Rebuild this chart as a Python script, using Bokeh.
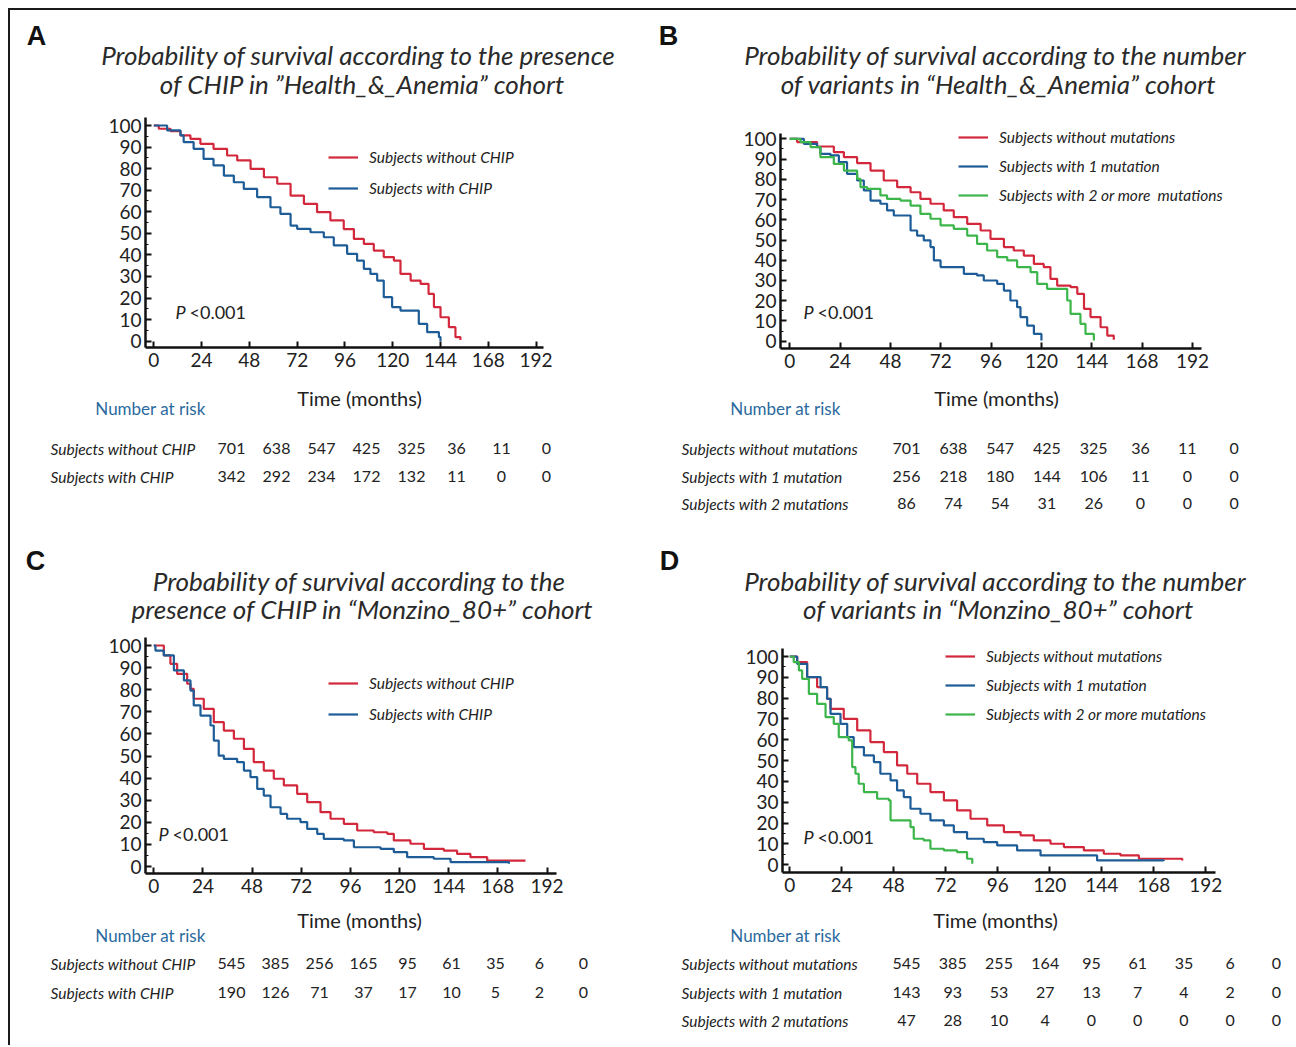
from bokeh.plotting import figure
from bokeh.models import (Label, LabelSet, ColumnDataSource, FixedTicker, Legend,
                          LegendItem, Range1d)
from bokeh.core.properties import value
from bokeh.layouts import column, row
from bokeh.embed import file_html
from bokeh.resources import INLINE

# ---------------- data ----------------
TIME_TICKS = [0, 24, 48, 72, 96, 120, 144, 168, 192]
Y_TICKS = [0, 10, 20, 30, 40, 50, 60, 70, 80, 90, 100]

# Panel A
A_t_without = [0, 2.5, 8.4, 13.4, 18.4, 23.4, 30, 36.8, 41.9, 48.6, 55.3, 62, 68.7, 75.4, 82, 88.7,
               95.4, 100.5, 105.5, 110.5, 115.5, 120.6, 123.9, 129, 134, 138, 140.7, 144, 148.2, 151.5, 154]
A_s_without = [100, 98.5, 97.4, 95.4, 93.8, 91.5, 89.2, 86.1, 83.8, 79.9, 76, 73, 67.5, 63.7, 59.8, 56,
               52, 47.4, 45.1, 42, 39, 37.4, 31.2, 28.1, 26.6, 21.9, 15.8, 11.1, 6.5, 1.9, 0.6]
A_t_with = [0, 6.7, 13.4, 15, 20, 25, 30, 35.2, 40.2, 45.2, 51.9, 58.6, 63.6, 68.7, 72, 78.7, 85.4,
            90.4, 97.1, 102.1, 105.5, 108.8, 112.2, 115.5, 119.7, 123.9, 130.6, 133.1, 137.3, 143.2, 144]
A_s_with = [100, 97.7, 95.4, 92.3, 89.2, 84.5, 81.5, 76.8, 73.7, 70.6, 66.8, 62.1, 59, 53.6, 52.1, 50.5,
            48.2, 44.4, 40.5, 37.4, 33.5, 31.2, 28.1, 20.4, 15.8, 14.2, 14.2, 8, 4.2, 1.9, 0]
A_risk_times = [0, 24, 48, 72, 96, 120, 144, 168]
A_risk_without = [701, 638, 547, 425, 325, 36, 11, 0]
A_risk_with = [342, 292, 234, 172, 132, 11, 0, 0]

# Panel B
B_t_without = [0, 3.5, 13, 21, 25.8, 32.1, 38.5, 44.8, 51.2, 57.6, 62.3, 67.1, 73.4, 78.2, 84.6, 91,
               95.7, 102.1, 106.8, 111.6, 116.4, 121.1, 124.3, 127.5, 133.9, 137.1, 140.3, 143.4, 148.2, 151.4, 154.5]
B_s_without = [100, 98.4, 96.2, 93.4, 90.9, 88, 84.3, 79.4, 76.1, 73.6, 70.3, 67.9, 64.6, 61.3, 58, 54.7,
               50.6, 46.5, 44.8, 42.3, 38.2, 36.6, 30.8, 27.5, 26.7, 23.4, 16, 11.9, 6.9, 2.8, 0.7]
B_t_one = [0, 6.7, 13, 14.6, 19.4, 23.4, 27.3, 32.1, 35.3, 38.5, 43.2, 46.4, 49.6, 54.4, 57.6, 60.7,
           63.9, 67.1, 68.7, 71.9, 79.8, 83, 89.3, 92.5, 98.9, 102.1, 105.2, 108.4, 110, 113.2, 116.4, 120]
B_s_one = [100, 97.5, 95.9, 92.6, 91.8, 88.5, 82.7, 79.4, 74.5, 69.5, 67.9, 64.6, 62.1, 62.1, 54.7, 52.2,
           49.8, 46.5, 39.9, 36.6, 36.6, 33.3, 32.5, 30, 28.3, 25, 20.1, 16.8, 11.9, 7.7, 3.6, 0.3]
B_t_two = [0, 5.1, 9.9, 14.6, 21, 25.8, 32.1, 33.7, 36.9, 43.2, 46.4, 52.8, 57.6, 62.3, 67.1, 71.9,
           78.2, 84.6, 89.3, 94.1, 98.9, 103.7, 108.4, 114.8, 118, 122.7, 130.7, 132.3, 133.9, 138.6, 141, 145]
B_s_two = [100, 98.4, 95.9, 90.9, 87.6, 84.3, 80.2, 76.1, 75.3, 72, 70.3, 69.5, 67, 62.9, 60.5, 57.2,
           55.5, 52.2, 48.1, 44.8, 41.5, 39.9, 36.6, 34.1, 28.3, 25.9, 25.9, 20.1, 13.5, 8.6, 3.6, 0.3]
B_risk_times = [0, 24, 48, 72, 96, 120, 144, 168]
B_risk_without = [701, 638, 547, 425, 325, 36, 11, 0]
B_risk_one = [256, 218, 180, 144, 106, 11, 0, 0]
B_risk_two = [86, 74, 54, 31, 26, 0, 0, 0]

# Panel C
C_t_without = [0, 1.6, 4.9, 8.1, 11.4, 16.3, 17.9, 19.5, 24.4, 29.3, 34.2, 39.1, 44, 48.8, 53.7, 58.6,
               63.5, 70, 74.9, 81.4, 86.3, 92.8, 99.3, 107.4, 114, 117.2, 125.3, 131.9, 141.6, 148.1, 154.6, 162.8, 181.5]
C_s_without = [100, 100, 95.5, 91.7, 87.2, 82.7, 80.4, 75.9, 71.3, 65.3, 61.5, 57.8, 53.2, 47.2, 43.4, 39.7,
               36.7, 32.9, 29.1, 24.6, 21.6, 19.3, 16.3, 15.5, 14.8, 11.8, 10.3, 8, 7.2, 5.7, 4.2, 2.7, 2.7]
C_t_with = [0, 0.8, 4.9, 9.8, 14.7, 17.9, 19.5, 22.8, 27.7, 29.3, 31.7, 34.2, 40.7, 44, 47.2, 50.5,
            53.7, 57, 61.9, 65.1, 71.6, 74.9, 79.8, 83, 92.8, 97.7, 110.7, 117.2, 123.7, 136.7, 144.9, 173.4]
C_s_with = [100, 97.7, 95.5, 88.7, 84.2, 79.6, 72.9, 68.3, 63.8, 57, 50.2, 48.7, 47.2, 43.4, 40.4, 35.1,
            32.1, 26.8, 23.8, 21.6, 20.1, 17, 14.8, 12.5, 11.8, 8.7, 8, 6.5, 4.2, 3.5, 2, 1.2]
C_risk_times = [0, 24, 48, 72, 96, 120, 144, 168, 192]
C_risk_without = [545, 385, 256, 165, 95, 61, 35, 6, 0]
C_risk_with = [190, 126, 71, 37, 17, 10, 5, 2, 0]

# Panel D
D_t_without = [0, 3.4, 8, 12.6, 17.2, 18.8, 24.9, 31.1, 37.2, 43.4, 49.5, 54.2, 58.8, 64.9, 71.1, 77.2,
               83.4, 91.1, 98.8, 106.5, 112.6, 120.3, 126.5, 135.7, 144.9, 152.6, 161.1, 181.1]
D_s_without = [100, 97.3, 90.1, 85.3, 79.7, 74.9, 70.1, 64.5, 58.9, 54.1, 47.7, 43.7, 38.9, 34.9, 30.9, 26.1,
               22.1, 18.9, 15.7, 14.1, 11.7, 10.1, 8.5, 6.9, 5.3, 4.5, 2.9, 2.1]
D_t_one = [0, 3.4, 8, 14.2, 17.2, 18.8, 23.4, 26.5, 29.5, 34.2, 38.8, 41.8, 46.5, 49.5, 52.6, 55.7,
           60.3, 64.9, 71.1, 75.7, 81.8, 89.5, 95.7, 104.9, 115.7, 137.2, 141.8, 172.6]
D_s_one = [100, 96.5, 90.1, 85.3, 79.7, 72.5, 67.7, 61.3, 56.5, 52.5, 49.3, 43.7, 40.5, 35.7, 32.5, 26.9,
           24.5, 21.3, 18.9, 15.7, 12.5, 10.9, 9.3, 6.9, 4.5, 4.5, 2.1, 1.8]
D_t_two = [0, 1.8, 4.2, 5.7, 8.8, 12.6, 16.5, 20.3, 22.6, 27.2, 28.8, 30.3, 31.8, 34.2, 38.8, 40.3,
           45.7, 46.5, 52.6, 55.7, 57.2, 61.8, 64.9, 71.1, 77.2, 81.8, 84.2]
D_s_two = [100, 97.3, 93.3, 89.3, 82.1, 77.3, 70.9, 67.7, 61.3, 59.7, 46.9, 43.7, 38.9, 34.9, 34.9, 31.7,
           30.9, 21.3, 21.3, 18.1, 12.5, 11.7, 7.7, 6.9, 6.1, 2.9, 0.5]
D_risk_times = [0, 24, 48, 72, 96, 120, 144, 168, 192]
D_risk_without = [545, 385, 255, 164, 95, 61, 35, 6, 0]
D_risk_one = [143, 93, 53, 27, 13, 7, 4, 2, 0]
D_risk_two = [47, 28, 10, 4, 0, 0, 0, 0, 0]

CHIP_LABELS = ["Subjects without CHIP", "Subjects with CHIP"]
MUT_LEGEND_B = ["Subjects without mutations", "Subjects with 1 mutation", "Subjects with 2 or more  mutations"]
MUT_LEGEND_D = ["Subjects without mutations", "Subjects with 1 mutation", "Subjects with 2 or more mutations"]
MUT_ROWS = ["Subjects without mutations", "Subjects with 1 mutation", "Subjects with 2 mutations"]

# ---------------- style ----------------
RED = "#d3283c"
BLUE = "#1d5c96"
GREEN = "#3cb54a"
INK = "#222222"
RISK_BLUE = "#2b6a9e"
FONT = "Lato"


def blank_fig(ox, oy, W, H):
    """A figure whose frame fills it, in page-pixel coordinates (y downward)."""
    f = figure(width=W, height=H, x_range=Range1d(ox, ox + W), y_range=Range1d(oy + H, oy),
               x_axis_type=None, y_axis_type=None, output_backend="svg", toolbar_location=None,
               min_border=0, min_border_left=0, min_border_right=0, min_border_top=0,
               min_border_bottom=0, frame_align=False)
    f.outline_line_color = None
    f.grid.visible = False
    f.background_fill_color = "white"
    f.border_fill_color = "white"
    return f


def add_label(f, X, Y, text, size, style="normal", align="left", color=INK, font=FONT):
    f.add_layout(Label(x=X, y=Y, text=text, text_align=align, text_baseline="middle",
                       text_font=font, text_font_size=size, text_font_style=style,
                       text_color=color))


def build_panel(ox, oy, W, heights, geo, letter_xy, letter, titles, curves, legend_cfg,
                p_xy, time_xy, risk_xy, rows_cfg):
    h_head, h_km, h_tab = heights
    # ---- header: panel letter + two-line title
    head = blank_fig(ox, oy, W, h_head)
    add_label(head, letter_xy[0], letter_xy[1], letter, "27px", "bold", "center", "#111111",
              "Liberation Sans")
    for (X, Y), text in titles:
        add_label(head, X, Y, text, "26px", "italic", "center", "#2a2a2a")

    # ---- survival plot
    ky = oy + h_head
    x0, sx, y0, sy = geo["x0"], geo["sx"], geo["y0"], geo["sy"]
    L, B = geo["left"], geo["bottom"]
    R = ox + W - 6
    T = ky

    def dx(X):
        return (X - x0) / sx

    def dy(Y):
        return (y0 - Y) / sy

    p = figure(width=W, height=h_km, x_range=Range1d(dx(L), dx(R)), y_range=Range1d(dy(B), dy(T)),
               output_backend="svg", toolbar_location=None,
               min_border_left=L - ox, min_border_right=ox + W - R,
               min_border_top=0, min_border_bottom=ky + h_km - B, frame_align=False)
    p.outline_line_color = None
    p.grid.visible = False
    p.background_fill_color = "white"
    p.border_fill_color = "white"

    p.xaxis.ticker = FixedTicker(ticks=TIME_TICKS)
    p.yaxis.ticker = FixedTicker(ticks=Y_TICKS, minor_ticks=[v + 5 for v in Y_TICKS[:-1]])
    p.xaxis.bounds = (dx(L), dx(geo["axis_right"]))
    p.yaxis.bounds = (dy(B), dy(geo["axis_top"]))
    for ax in (p.xaxis[0], p.yaxis[0]):
        ax.axis_line_width = 2.5
        ax.axis_line_color = "#111111"
        ax.major_tick_in = 6
        ax.major_tick_out = 0
        ax.minor_tick_in = 3
        ax.minor_tick_out = 0
        ax.major_tick_line_width = 2
        ax.major_tick_line_color = "#111111"
        ax.minor_tick_line_color = "#111111"
        ax.major_label_text_font = FONT
        ax.major_label_text_font_size = "19px"
        ax.major_label_text_color = INK
    p.xaxis[0].major_label_standoff = 5
    p.yaxis[0].major_label_standoff = 4

    items = []
    for t, s, color, lab in curves:
        r = p.step(t, s, mode="after", line_color=color, line_width=2.2)
        items.append(LegendItem(label=lab, renderers=[r]))

    lx, ly0, spacing = legend_cfg
    n = len(items)
    leg_bottom = ly0 - 10 + n * 20 + (n - 1) * spacing
    legend = Legend(items=items, location=(lx - L, B - leg_bottom),
                    glyph_width=30, glyph_height=20, label_height=20, label_standoff=11,
                    spacing=spacing, padding=0, margin=0, border_line_color=None,
                    background_fill_alpha=0, label_text_font=FONT, label_text_font_style="italic",
                    label_text_font_size="15.5px", label_text_color=INK)
    p.add_layout(legend)

    p.add_layout(Label(x=dx(p_xy[0]), y=dy(p_xy[1]), text="P", text_baseline="middle",
                       text_font=FONT, text_font_size="18px", text_font_style="italic",
                       text_color=INK))
    p.add_layout(Label(x=dx(p_xy[0] + 14), y=dy(p_xy[1]), text="<0.001", text_baseline="middle",
                       text_font=FONT, text_font_size="18px", text_color=INK))

    # ---- number-at-risk table
    ty = ky + h_km
    tab = blank_fig(ox, ty, W, h_tab)
    add_label(tab, time_xy[0], time_xy[1], "Time (months)", "20px", "normal", "center")
    add_label(tab, risk_xy[0], risk_xy[1], "Number at risk", "17px", "normal", "center", RISK_BLUE)
    label_x, col0, col_step, rows = rows_cfg
    for Y, name, vals in rows:
        add_label(tab, label_x, Y, name, "15.5px", "italic")
        src = ColumnDataSource(dict(x=[col0 + i * col_step for i in range(len(vals))],
                                    y=[Y] * len(vals), text=[str(v) for v in vals]))
        tab.add_layout(LabelSet(x="x", y="y", text="text", source=src, text_align="center",
                                text_baseline="middle", text_font=value(FONT),
                                text_font_size=value("16px"), text_color=INK))
    return column(head, p, tab, spacing=0)


pA = build_panel(
    10, 10, 638, (90, 275, 148),
    dict(x0=153.3, sx=1.991, y0=340.7, sy=2.157, left=145, bottom=347, axis_right=543, axis_top=117),
    (36, 35), "A",
    [((358, 54), "Probability of survival according to the presence"),
     ((362, 83), "of CHIP in \u201dHealth_&_Anemia\u201d cohort")],
    [(A_t_without, A_s_without, RED, CHIP_LABELS[0]), (A_t_with, A_s_with, BLUE, CHIP_LABELS[1])],
    (328, 157, 11),
    (175, 311), (359, 397), (150, 408),
    (50, 231, 45, [(448, CHIP_LABELS[0], A_risk_without), (476, CHIP_LABELS[1], A_risk_with)]))

pB = build_panel(
    648, 10, 648, (90, 275, 148),
    dict(x0=789.3, sx=2.097, y0=340.7, sy=2.024, left=780, bottom=348, axis_right=1201, axis_top=133),
    (668, 35), "B",
    [((995, 54), "Probability of survival according to the number"),
     ((998, 83), "of variants in \u201cHealth_&_Anemia\u201d cohort")],
    [(B_t_without, B_s_without, RED, MUT_LEGEND_B[0]), (B_t_one, B_s_one, BLUE, MUT_LEGEND_B[1]),
     (B_t_two, B_s_two, GREEN, MUT_LEGEND_B[2])],
    (958, 137, 9),
    (803, 311), (996, 397), (785, 408),
    (681, 906, 46.8, [(448, MUT_ROWS[0], B_risk_without), (476, MUT_ROWS[1], B_risk_one),
                      (503, MUT_ROWS[2], B_risk_two)]))

pC = build_panel(
    10, 523, 638, (102, 275, 145),
    dict(x0=153.3, sx=2.048, y0=866, sy=2.21, left=145, bottom=873, axis_right=556, axis_top=637),
    (35, 560), "C",
    [((359, 580), "Probability of survival according to the"),
     ((362, 608), "presence of CHIP in \u201cMonzino_80+\u201d cohort")],
    [(C_t_without, C_s_without, RED, CHIP_LABELS[0]), (C_t_with, C_s_with, BLUE, CHIP_LABELS[1])],
    (328, 683, 11),
    (158, 833), (359, 919), (150, 935),
    (50, 231, 44, [(963, CHIP_LABELS[0], C_risk_without), (992, CHIP_LABELS[1], C_risk_with)]))

pD = build_panel(
    648, 523, 648, (102, 275, 145),
    dict(x0=789.3, sx=2.167, y0=864.3, sy=2.083, left=782, bottom=872, axis_right=1215, axis_top=648),
    (669, 560), "D",
    [((995, 580), "Probability of survival according to the number"),
     ((998, 608), "of variants in \u201cMonzino_80+\u201d cohort")],
    [(D_t_without, D_s_without, RED, MUT_LEGEND_D[0]), (D_t_one, D_s_one, BLUE, MUT_LEGEND_D[1]),
     (D_t_two, D_s_two, GREEN, MUT_LEGEND_D[2])],
    (945, 656, 9),
    (803, 836), (995, 919), (785, 935),
    (681, 906, 46.25, [(963, MUT_ROWS[0], D_risk_without), (992, MUT_ROWS[1], D_risk_one),
                       (1020, MUT_ROWS[2], D_risk_two)]))

layout = column(row(pA, pB, spacing=0), row(pC, pD, spacing=0), spacing=0,
                styles={"border-top": "2px solid #1a1a1a", "border-left": "2px solid #1a1a1a",
                        "margin-left": "8px", "margin-top": "8px"})

open("out.html", "w").write(file_html(layout, INLINE))
